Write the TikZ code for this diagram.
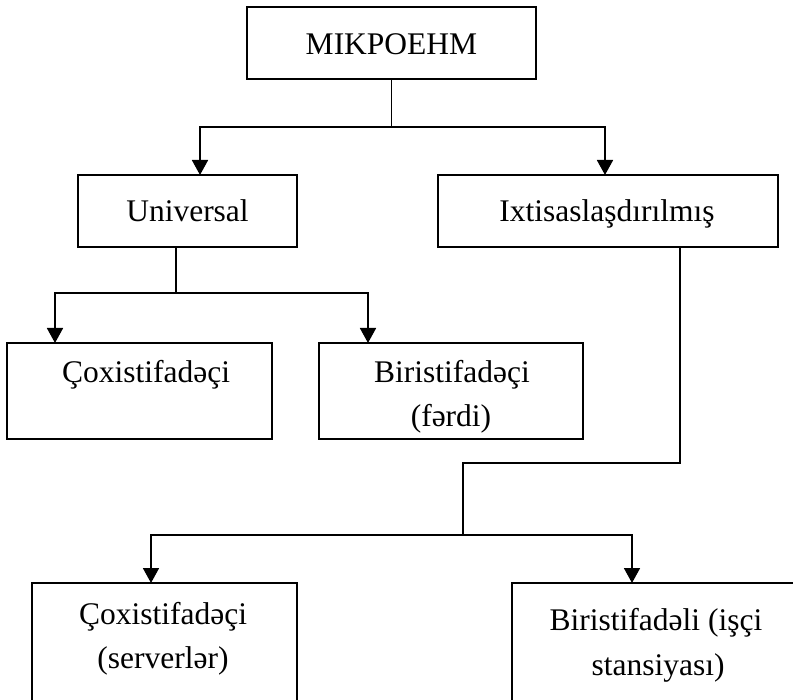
\documentclass[tikz,border=0pt]{standalone}
\usepackage{fontspec}
\setmainfont{Liberation Serif}
\usetikzlibrary{arrows.meta,calc}
\begin{document}
\begin{tikzpicture}[x=1pt,y=-1pt,
  boxstyle/.style={draw,line width=1.8pt,rectangle,inner sep=0pt,outer sep=0pt,anchor=north west},
  txt/.style={anchor=base,inner sep=0pt,font=\fontsize{31.5}{44}\selectfont},
  conn/.style={line width=1.8pt},
  arr/.style={line width=1.8pt,-{Triangle[width=16pt,length=15pt]}}]
\useasboundingbox (0,0) rectangle (793,700);
\clip (0,0) rectangle (793,700);
% boxes
\node[boxstyle,minimum width=289pt,minimum height=72pt] (top) at (247,7) {};
\node[boxstyle,minimum width=219pt,minimum height=72pt] (univ) at (78,175) {};
\node[boxstyle,minimum width=340pt,minimum height=72pt] (ixt) at (438,175) {};
\node[boxstyle,minimum width=265pt,minimum height=96pt] (cox1) at (7,343) {};
\node[boxstyle,minimum width=264pt,minimum height=96pt] (bir1) at (319,343) {};
\node[boxstyle,minimum width=265pt,minimum height=160pt] (cox2) at (32,583) {};
\node[boxstyle,minimum width=288pt,minimum height=160pt] (bir2) at (512,583) {};
% texts
\node[txt] (ttop) at (391.5,55) {MIKPOEHM};
\node[txt] (tuniv) at (187.5,222) {Universal};
\node[txt] (tixt) at (607,222) {Ixtisaslaşdırılmış};
\node[txt] (tcox1) at (146,383) {Çoxistifadəçi};
\node[txt] (tbir1a) at (452,383) {Biristifadəçi};
\node[txt] (tbir1b) at (451,427) {(fərdi)};
\node[txt] (tcox2a) at (163,624) {Çoxistifadəçi};
\node[txt] (tcox2b) at (163,668) {(serverlər)};
\node[txt] (tbir2a) at (656,630) {Biristifadəli (işçi};
\node[txt] (tbir2b) at (658,675) {stansiyası)};
% connector points
\coordinate (j1) at (391.5,127);
\coordinate (uin) at (200,175);
\coordinate (iin) at (605,175);
\coordinate (uout) at (176,247);
\coordinate (j2) at (176,293);
\coordinate (c1in) at (55,343);
\coordinate (b1in) at (368,343);
\coordinate (iout) at (680,247);
\coordinate (j3) at (680,463);
\coordinate (j4) at (463,463);
\coordinate (j5) at (463,535);
\coordinate (c2in) at (151,583);
\coordinate (b2in) at (632,583);
% connectors
\draw[conn] (top.south) -- (j1);
\draw[arr] (j1) -| (uin);
\draw[arr] (j1) -| (iin);
\draw[conn] (uout) -- (j2);
\draw[arr] (j2) -| (c1in);
\draw[arr] (j2) -| (b1in);
\draw[conn] (iout) -- (j3) -- (j4) -- (j5);
\draw[arr] (j5) -| (c2in);
\draw[arr] (j5) -| (b2in);
\end{tikzpicture}
\end{document}
